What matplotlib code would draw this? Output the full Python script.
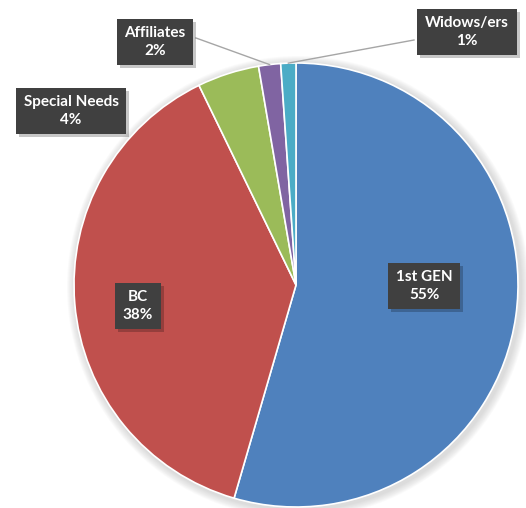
import numpy as np
import matplotlib.pyplot as plt
from matplotlib.patches import Circle, Rectangle

categories = ['1st GEN', 'BC', 'Special Needs', 'Affiliates', 'Widows/ers']
values = [54.5, 38.3, 4.5, 1.6, 1.1]
pct_labels = ['55%', '38%', '4%', '2%', '1%']
colors = ['#4F81BD', '#C0504D', '#9BBB59', '#8064A2', '#4BACC6']

W, H = 526, 508


def main():
    fig = plt.figure(figsize=(W / 100, H / 100), dpi=100)
    ax = fig.add_axes([0, 0, 1, 1])

    cx, cy, r = 296, H - 285, 222

    # soft shadow around the pie
    for i in range(8):
        ax.add_patch(Circle((cx + 2, cy - 2), r + 9 - i, color='#808080',
                            alpha=0.035, lw=0, zorder=1))

    wedges, _ = ax.pie(values, colors=colors, startangle=90, counterclock=False,
                       center=(cx, cy), radius=r, frame=True,
                       wedgeprops=dict(edgecolor='white', linewidth=1.2, zorder=2))
    ax.set_xlim(0, W)
    ax.set_ylim(0, H)
    ax.set_aspect('equal')
    ax.axis('off')

    # label box centres in pixels (x, y from top)
    label_pos = {
        '1st GEN': (424, 286),
        'BC': (138, 306),
        'Special Needs': (71, 111),
        'Affiliates': (155, 42),
        'Widows/ers': (467, 32),
    }
    # leader lines for small slices
    leaders = {
        'Affiliates': (196, 38),
        'Widows/ers': (414, 40),
    }

    texts = []
    for w, name, pct in zip(wedges, categories, pct_labels):
        px, py = label_pos[name]
        t = ax.text(px, H - py, f'{name}\n{pct}', ha='center', va='center',
                    fontsize=11, fontweight='bold', family='Lato', color='white',
                    linespacing=1.3,
                    bbox=dict(boxstyle='square,pad=0.5', fc='#404040', ec='none'),
                    zorder=5)
        texts.append(t)
        if name in leaders:
            lx, ly = leaders[name]
            mid = np.deg2rad((w.theta1 + w.theta2) / 2)
            ex, ey = cx + r * np.cos(mid), cy + r * np.sin(mid)
            ax.plot([lx, ex], [H - ly, ey], color='#a6a6a6', lw=1, zorder=3)

    # drop shadows behind the label boxes
    fig.canvas.draw()
    inv = ax.transData.inverted()
    for t in texts:
        bb = t.get_bbox_patch().get_window_extent()
        (x0, y0), (x1, y1) = inv.transform([[bb.x0, bb.y0], [bb.x1, bb.y1]])
        ax.add_patch(Rectangle((x0 + 3, y0 - 3), x1 - x0, y1 - y0,
                               fc='black', ec='none', alpha=0.22, zorder=4))

    fig.savefig('out.png', dpi=100, facecolor='white')
    plt.close('all')


if __name__ == '__main__':
    main()
